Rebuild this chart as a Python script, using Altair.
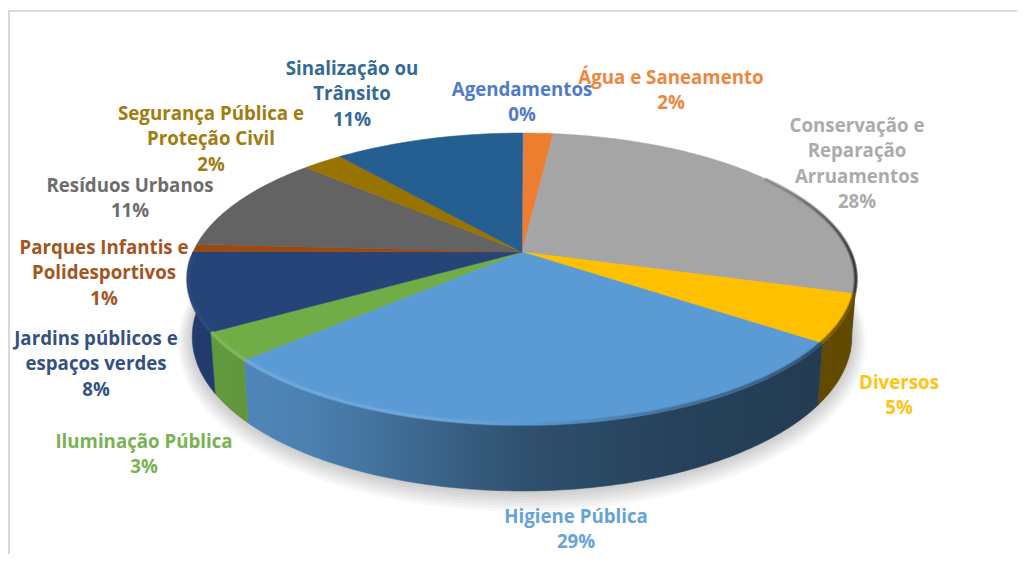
import math
import altair as alt

# ---- data ----
CATEGORIES = ["Agendamentos", "Água e Saneamento", "Conservação e Reparação Arruamentos", "Diversos",
              "Higiene Pública", "Iluminação Pública", "Jardins públicos e espaços verdes",
              "Parques Infantis e Polidesportivos", "Resíduos Urbanos", "Segurança Pública e Proteção Civil",
              "Sinalização ou Trânsito"]
VALUES = [0.1, 1.7, 27.7, 5.3, 28.4, 3.1, 8.7, 0.8, 10.9, 2.3, 10.9]
PERCENT_LABELS = ["0%", "2%", "28%", "5%", "29%", "3%", "8%", "1%", "11%", "2%", "11%"]
LABEL_LINES = [["Agendamentos"], ["Água e Saneamento"], ["Conservação e", "Reparação", "Arruamentos"], ["Diversos"],
               ["Higiene Pública"], ["Iluminação Pública"], ["Jardins públicos e", "espaços verdes"],
               ["Parques Infantis e", "Polidesportivos"], ["Resíduos Urbanos"], ["Segurança Pública e", "Proteção Civil"],
               ["Sinalização ou", "Trânsito"]]
COLORS = ["#4472c4", "#ed7d31", "#a5a5a5", "#ffc000", "#5b9bd5", "#70ad47", "#264478", "#9e480e", "#636363", "#997300", "#255e91"]

# ---- layout (page pixels minus the 8px margin) ----
OX, OY = 8, 8
CX, CY = 522 - OX, 252 - OY
A, B, K = 329.0, 141.0, 0.185
LABEL_XY = [(522, 90), (671, 78), (857, 126), (899, 383), (576, 517), (144, 442), (96, 339), (104, 248), (130, 186), (211, 114), (352, 69)]
LINE_H = 25.4
W, H = 1009, 546
FONT = "Open Sans"
FS = 18.7


def rim(t, grow=0.0):
    X, Y = math.sin(t), math.cos(t)
    w = 1 + K * Y
    return (CX + (A + grow) * X / w, CY - (B + grow) * Y / w)


def base(t, grow=0.0):
    X, Y = math.sin(t), math.cos(t)
    w = 1 + K * Y
    d = 56 + 10 * max(0.0, -Y)
    return (CX + (A * 0.985 + grow) * X / w, CY - (B + grow) * Y / w + d + grow * 0.25)


def angles(a, b):
    n = max(2, int(abs(b - a) / math.radians(1)) + 1)
    return [a + (b - a) * i / n for i in range(n + 1)]


def feature(kind, coords):
    return {"type": "Feature", "properties": {}, "geometry": {"type": kind, "coordinates": coords}}


PROJ = alt.Projection(type="identity", scale=1, translate=[0, 0])


def geo(kind, coords, **mark):
    return alt.Chart(alt.Data(values=[feature(kind, coords)])).mark_geoshape(**mark).project(**PROJ.to_dict())


def hexmul(c, f):
    r, g, b = int(c[1:3], 16), int(c[3:5], 16), int(c[5:7], 16)
    fn = (lambda v: min(255, int(v * f))) if f <= 1 else (lambda v: min(255, int(v + (255 - v) * (f - 1) * 1.0)))
    return "#%02x%02x%02x" % (fn(r), fn(g), fn(b))


def interp(tbl, x):
    x = max(tbl[0][0], min(tbl[-1][0], x))
    for (a, fa), (b, fb) in zip(tbl, tbl[1:]):
        if x <= b:
            return fa + (fb - fa) * (x - a) / (b - a)
    return tbl[-1][1]


WALL_F = [(0, .90), (.19, .83), (.5, .52), (.75, .42), (1, .38)]
RIM_F = [(0, 1.14), (.4, 1.14), (.5, 1.0), (.7, .72), (.9, .55), (1, .3)]
NAVY_F = [(0, 1.04), (1, 1.04)]
BACK_F = [(0, 1.0), (.8, 1.0), (.9, .75), (.96, .5), (1, .25)]
LEFT, SPAN = CX - 335, 670.0


def gradient(color, x0, x1, table, n=10):
    stops = []
    for i in range(n + 1):
        o = i / n
        x = x0 + (x1 - x0) * o
        stops.append(alt.GradientStop(color=hexmul(color, interp(table, (x - LEFT) / SPAN)), offset=o))
    return alt.LinearGradient(gradient="linear", stops=stops, x1=0, x2=1, y1=0, y2=0)


layers = []

# frame
layers.append(geo("LineString", [[1, H], [1, 3], [W, 3]], filled=False, stroke="#d9d9d9", strokeWidth=2))

# soft shadow under the body
ALL = angles(0, 2 * math.pi)
for e in range(2, 16, 2):
    ring = [list(base(t, e)) for t in ALL]
    ring.append(ring[0])
    layers.append(geo("Polygon", [ring], fill="#000000", fillOpacity=0.028, strokeWidth=0))

# slice boundaries
total = sum(VALUES)
edges = [0.0]
for v in VALUES:
    edges.append(edges[-1] + v / total * 2 * math.pi)

# walls
lo, hi = math.radians(90), math.radians(270)
for i, c in enumerate(COLORS):
    a, b = max(edges[i], lo), min(edges[i + 1], hi)
    if b <= a:
        continue
    ts = angles(a, b)
    ring = [list(rim(t)) for t in ts] + [list(base(t)) for t in reversed(ts)]
    ring.append(ring[0])
    xs = [p[0] for p in ring]
    g = gradient(c, min(xs), max(xs), WALL_F)
    layers.append(geo("Polygon", [ring], fill=g, stroke=g, strokeWidth=0.5))

# top faces
for i, c in enumerate(COLORS):
    ring = [[CX, CY]] + [list(rim(t)) for t in angles(edges[i], edges[i + 1])] + [[CX, CY]]
    layers.append(geo("Polygon", [ring], fill=c, stroke=c, strokeWidth=0.5))

# bevel along the rim of the top face
rlo, rhi = math.radians(55), math.radians(268)
for i, c in enumerate(COLORS):
    a, b = max(edges[i], rlo), min(edges[i + 1], rhi)
    if b <= a:
        continue
    line = [list(rim(t, -1.0)) for t in angles(a, b)]
    xs = [p[0] for p in line]
    if max(xs) - min(xs) < 1:
        continue
    table = BACK_F if edges[i] < rlo else (NAVY_F if c == "#264478" else RIM_F)
    g = gradient(c, min(xs), max(xs), table)
    layers.append(geo("LineString", line, filled=False, stroke=g, strokeWidth=4.5, strokeOpacity=0.45))
    layers.append(geo("LineString", line, filled=False, stroke=g, strokeWidth=2, strokeOpacity=0.8))

# labels
rows = []
for lines, pct, (lx, ly), c in zip(LABEL_LINES, PERCENT_LABELS, LABEL_XY, COLORS):
    for j, t in enumerate(lines + [pct]):
        rows.append({"t": t, "lx": lx - OX, "ly": ly - OY + j * LINE_H, "c": c})

text = (alt.Chart(alt.Data(values=rows))
        .mark_text(font=FONT, fontSize=FS, fontWeight="bold", align="center", baseline="middle", opacity=0.93)
        .encode(longitude="lx:Q", latitude="ly:Q", text="t:N", color=alt.Color("c:N", scale=None, legend=None))
        .project(**PROJ.to_dict()))
layers.append(text)

chart = (alt.layer(*layers)
         .properties(width=W, height=H, padding=0, autosize=alt.AutoSizeParams(type="none"), background="#ffffff")
         .configure_view(stroke=None))

chart.save("out.html", embed_options={"renderer": "svg", "actions": False})
